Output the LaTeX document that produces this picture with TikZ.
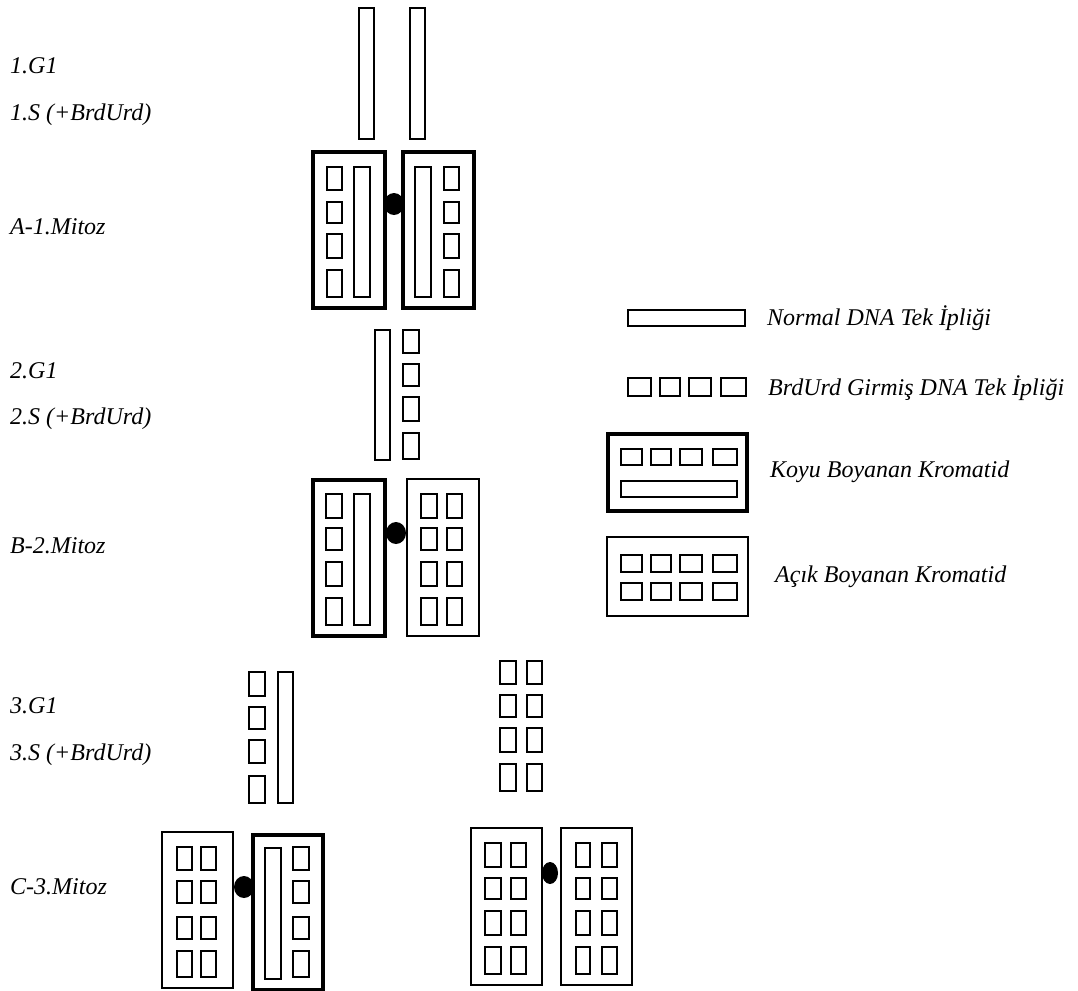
\documentclass[tikz,border=0pt]{standalone}
\usepackage{fontspec}
\setmainfont{Liberation Serif}
\usetikzlibrary{positioning}

\begin{document}
\begin{tikzpicture}[
  x=1pt, y=-1pt,
  strand/.style={draw, line width=1.4pt},
  dark/.style={draw, line width=4pt},
  light/.style={draw, line width=1.4pt},
  cen/.style={fill=black},
  lbl/.style={anchor=west, inner sep=0pt, font=\itshape\fontsize{24}{28}\selectfont},
]
\useasboundingbox (0,0) rectangle (1078,990);

% stage labels
\node[lbl] (g1a) at (10,66) {1.G1};
\node[lbl] (s1) at (10,115) {1.S (+BrdUrd)};
\node[lbl] (mA) at (10,227) {A-1.Mitoz};
\node[lbl] (g1b) at (10,371) {2.G1};
\node[lbl] (s2) at (10,419) {2.S (+BrdUrd)};
\node[lbl] (mB) at (10,546) {B-2.Mitoz};
\node[lbl] (g1c) at (10,706) {3.G1};
\node[lbl] (s3) at (10,755) {3.S (+BrdUrd)};
\node[lbl] (mC) at (10,887) {C-3.Mitoz};

% 1. G1 / S
\draw[strand] (359,8) rectangle (374,139);
\draw[strand] (410,8) rectangle (425,139);

% A - 1. mitoz
\draw[dark] (313,152) rectangle (385,308);
\draw[dark] (403,152) rectangle (474,308);
\foreach \ya/\yb in {167/190, 202/223, 234/258, 270/297} {
  \draw[strand] (327,\ya) rectangle (342,\yb);
  \draw[strand] (444,\ya) rectangle (459,\yb);
}
\draw[strand] (354,167) rectangle (370,297);
\draw[strand] (415,167) rectangle (431,297);
\fill[cen] (394,204) ellipse [x radius=10pt, y radius=11pt];

% 2. G1 / S
\draw[strand] (375,330) rectangle (390,460);
\foreach \ya/\yb in {330/353, 364/386, 397/421, 433/459}
  \draw[strand] (403,\ya) rectangle (419,\yb);

% B - 2. mitoz
\draw[dark] (313,480) rectangle (385,636);
\draw[light] (407,479) rectangle (479,636);
\foreach \ya/\yb in {494/518, 528/550, 562/586, 598/625} {
  \draw[strand] (326,\ya) rectangle (342,\yb);
  \draw[strand] (421,\ya) rectangle (437,\yb);
  \draw[strand] (447,\ya) rectangle (462,\yb);
}
\draw[strand] (354,494) rectangle (370,625);
\fill[cen] (396,533) ellipse [x radius=10pt, y radius=11pt];

% 3. G1 / S
\foreach \ya/\yb in {672/696, 707/729, 740/763, 776/803}
  \draw[strand] (249,\ya) rectangle (265,\yb);
\draw[strand] (278,672) rectangle (293,803);
\foreach \ya/\yb in {661/684, 695/717, 728/752, 764/791} {
  \draw[strand] (500,\ya) rectangle (516,\yb);
  \draw[strand] (527,\ya) rectangle (542,\yb);
}

% C - 3. mitoz
\draw[light] (162,832) rectangle (233,988);
\draw[dark] (253,835) rectangle (323,990);
\foreach \ya/\yb in {847/870, 881/903, 917/939, 951/977} {
  \draw[strand] (177,\ya) rectangle (192,\yb);
  \draw[strand] (201,\ya) rectangle (216,\yb);
  \draw[strand] (293,\ya) rectangle (309,\yb);
}
\draw[strand] (265,848) rectangle (281,979);
\fill[cen] (244,887) ellipse [x radius=10pt, y radius=11pt];

\draw[light] (471,828) rectangle (542,985);
\draw[light] (561,828) rectangle (632,985);
\foreach \ya/\yb in {843/867, 878/899, 911/935, 947/974} {
  \draw[strand] (485,\ya) rectangle (501,\yb);
  \draw[strand] (511,\ya) rectangle (526,\yb);
  \draw[strand] (576,\ya) rectangle (590,\yb);
  \draw[strand] (602,\ya) rectangle (617,\yb);
}
\fill[cen] (550,873) ellipse [x radius=8pt, y radius=11pt];

% legend
\draw[strand] (628,310) rectangle (745,326);
\node[lbl] (kNormal) at (767,318) {Normal DNA Tek İpliği};
\foreach \xa/\xb in {628/651, 660/680, 689/711, 721/746}
  \draw[strand] (\xa,378) rectangle (\xb,396);
\node[lbl] (kBrd) at (768,388) {BrdUrd Girmiş DNA Tek İpliği};
\draw[dark] (608,434) rectangle (747,511);
\draw[light] (607,537) rectangle (748,616);
\foreach \xa/\xb in {621/642, 651/671, 680/702, 713/737} {
  \draw[strand] (\xa,449) rectangle (\xb,465);
  \draw[strand] (\xa,555) rectangle (\xb,572);
  \draw[strand] (\xa,583) rectangle (\xb,600);
}
\draw[strand] (621,481) rectangle (737,497);
\node[lbl] (kKoyu) at (770,472) {Koyu Boyanan Kromatid};
\node[lbl] (kAcik) at (775,577) {Açık Boyanan Kromatid};
\end{tikzpicture}
\end{document}
